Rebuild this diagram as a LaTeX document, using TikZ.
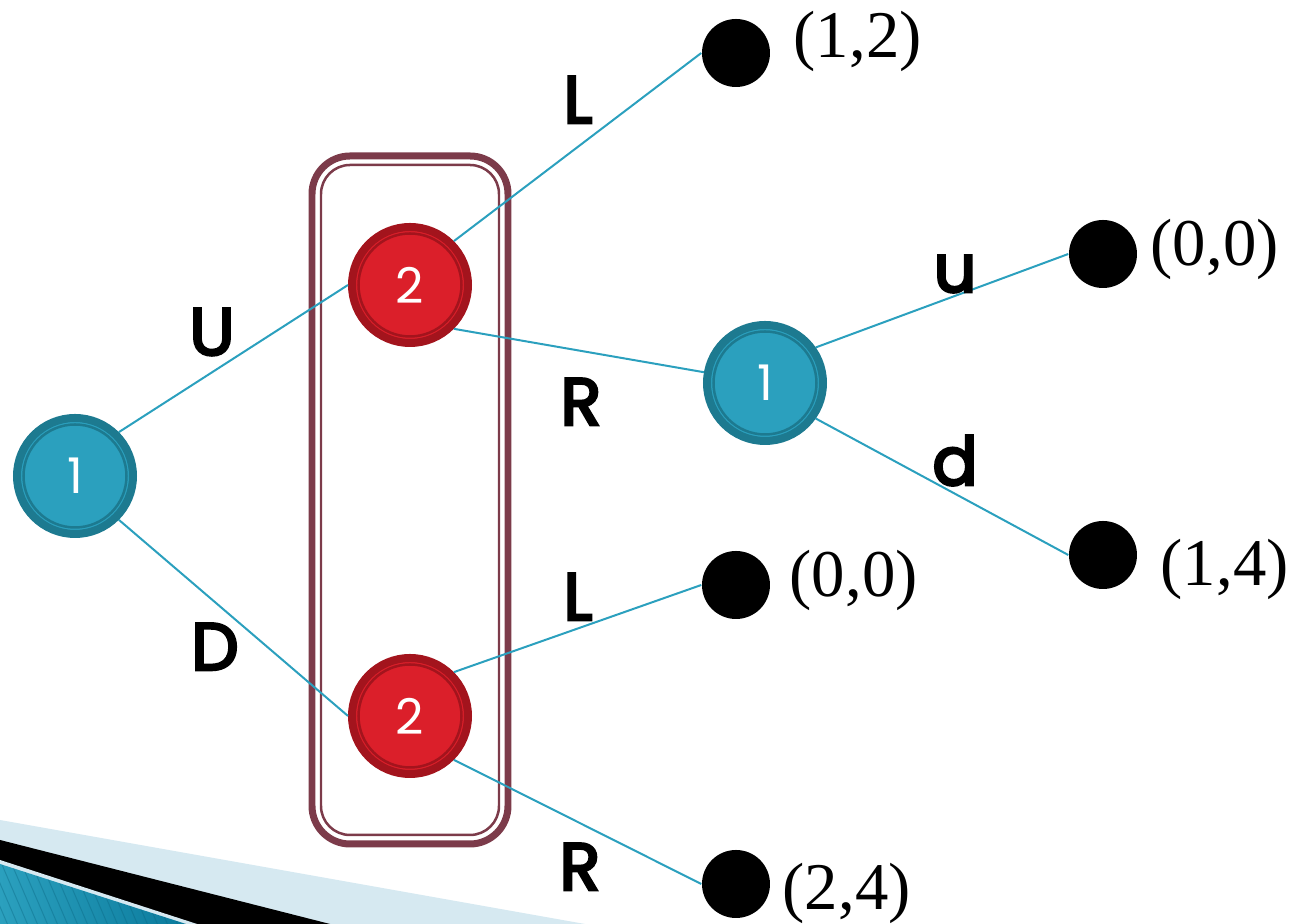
\documentclass[tikz,border=0pt]{standalone}
\usepackage{fontspec}
\setmainfont{Liberation Serif}
\newfontfamily\lblfont{Poppins}
\newfontfamily\movefont{Poppins}[FakeBold=4]
\definecolor{tealA}{HTML}{2BA0BE}
\definecolor{tealB}{HTML}{1D7A90}
\definecolor{redA}{HTML}{DB1F2A}
\definecolor{redB}{HTML}{A3141D}
\definecolor{boxcol}{HTML}{7C3B4A}
\definecolor{paleblue}{HTML}{D6E9F1}
\definecolor{deepblue}{HTML}{0A7A9C}

\begin{document}
\begin{tikzpicture}[x=.1mm,y=-.1mm,
	player/.style={circle, minimum size=11.6mm, inner sep=0, line width=.8mm, text=white,
		font=\lblfont\fontsize{14}{14}\selectfont},
	pone/.style={player, draw=tealB, fill=tealA,
		path picture={\draw[tealB, line width=.25mm] (path picture bounding box.center) circle (5.15mm);}},
	ptwo/.style={player, draw=redB, fill=redA,
		path picture={\draw[redB, line width=.25mm] (path picture bounding box.center) circle (5.15mm);}},
	leaf/.style={circle, fill=black, minimum size=6.8mm, inner sep=0},
	pay/.style={anchor=west, inner sep=0, font=\fontsize{19}{19}\selectfont},
	move/.style={anchor=base, inner sep=0, font=\movefont\fontsize{19}{19}\selectfont},
	edge/.style={tealA, line width=.2mm}]
	\useasboundingbox (0,0) rectangle (1305,924);

	% corner stripes
	\fill[paleblue] (0,820) -- (585,924) -- (0,924) -- cycle;
	\fill[black] (0,840) -- (330,924) -- (0,924) -- cycle;
	\fill[paleblue] (0,860) -- (197,924) -- (0,924) -- cycle;
	\begin{scope}
		\clip (0,864) -- (186,924) -- (0,924) -- cycle;
		\shade[left color=tealA, right color=deepblue] (0,860) rectangle (190,924);
		\foreach \s in {-40,-30,...,190} \draw[deepblue!80!black, opacity=.35, line width=.1mm] (\s,860) -- ++(30,70);
	\end{scope}

	% information set
	\draw[boxcol, line width=.7mm, rounded corners=3.8mm] (312,156) rectangle (508,844);
	\draw[boxcol, line width=.25mm, rounded corners=2.9mm] (321,165) rectangle (499,835);

	% decision nodes
	\node[pone] (r1) at (75,476) {1};
	\node[ptwo] (p2a) at (410,285) {2};
	\node[ptwo] (p2b) at (410,716) {2};
	\node[pone] (p1) at (765,383) {1};

	% end nodes
	\node[leaf] (t1) at (736,53) {};
	\node[leaf] (t2) at (1103,254) {};
	\node[leaf] (t3) at (736,585) {};
	\node[leaf] (t4) at (1103,555) {};
	\node[leaf] (t5) at (736,884) {};
	\node[pay] (o1) at (793,41) {(1,2)};
	\node[pay] (o2) at (1150,249) {(0,0)};
	\node[pay] (o3) at (789,580) {(0,0)};
	\node[pay] (o4) at (1160,569) {(1,4)};
	\node[pay] (o5) at (782,893) {(2,4)};

	\draw[edge] (r1.north east) -- (p2a.west);
	\draw[edge] (r1.south east) -- (p2b.west);
	\draw[edge] (p2a.north east) -- (t1.west);
	\draw[edge] (p2a.south east) -- (p1.170);
	\draw[edge] (p1.35) -- (t2.west);
	\draw[edge] (p1.-35) -- (t4.west);
	\draw[edge] (p2b.north east) -- (t3.west);
	\draw[edge] (p2b.south east) -- (t5.west);

	% moves
	\node[move] (mU) at (212,355) {U};
	\node[move] (mD) at (215,670) {D};
	\node[move] (mL1) at (578,123) {L};
	\node[move] (mR1) at (581,425) {R};
	\node[move] (mL2) at (578,620) {L};
	\node[move] (mR2) at (580,890) {R};
	\node[move] (mu) at (955,292) {u};
	\node[move] (md) at (955,485) {d};
\end{tikzpicture}
\end{document}
